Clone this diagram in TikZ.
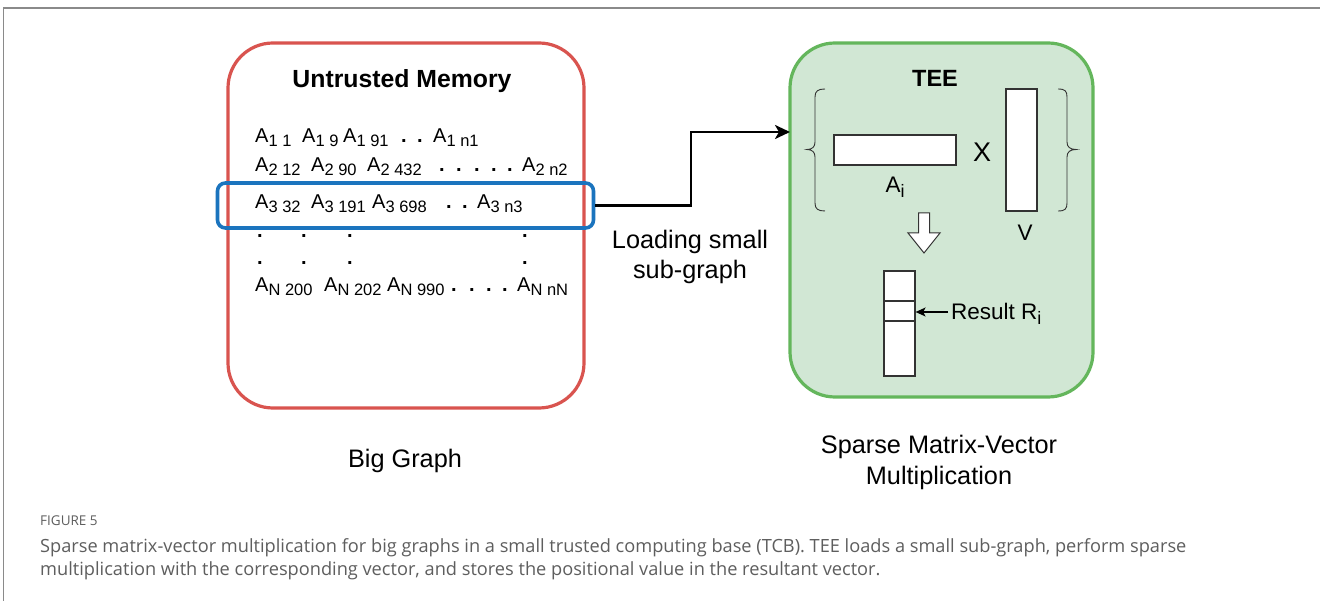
\documentclass[tikz,border=0pt]{standalone}
\usepackage{fontspec}
\setmainfont{Liberation Sans}
\newfontfamily\capfont{Open Sans}
\usetikzlibrary{arrows.meta}
\definecolor{memred}{HTML}{D9544F}
\definecolor{teegreen}{HTML}{64B65C}
\definecolor{teefill}{HTML}{D1E7D4}
\definecolor{selblue}{HTML}{1B74BE}
\definecolor{framegray}{HTML}{8A8A8A}
\definecolor{captext}{HTML}{5E5E5E}
\definecolor{shapeline}{HTML}{333333}
\newcommand{\sbs}[1]{\raisebox{-4pt}{\fontsize{16.5}{16.5}\selectfont #1}}
\newcommand{\sbt}[1]{\raisebox{-4.5pt}{\fontsize{18}{18}\selectfont #1}}
\tikzset{
  ent/.style={anchor=base west, inner sep=0pt, font=\fontsize{20}{20}\selectfont},
  dotn/.style={anchor=base west, inner sep=0pt, font=\fontsize{20}{20}\selectfont\bfseries},
  panel/.style={line width=3.2pt, rounded corners=45pt},
  label/.style={align=center, inner sep=0pt, font=\fontsize{25.3}{31}\selectfont},
  headtxt/.style={anchor=base, inner sep=0pt, font=\fontsize{24.8}{26}\selectfont\bfseries},
  mtx/.style={draw=shapeline, fill=white, line width=1.2pt, inner sep=0pt},
  brc/.style={draw=shapeline, line width=0.9pt},
  flow/.style={line width=2.6pt, -{Stealth[length=15pt,width=14pt,inset=4pt]}},
}
\begin{document}
\begin{tikzpicture}[x=1pt,y=-1pt]
\useasboundingbox (0,0) rectangle (1320,601);
\fill[white] (0,0) rectangle (1320,601);

% outer frame
\draw[framegray, line width=1.6pt] (3.5,601) -- (3.5,8) -- (1320,8);

% untrusted memory panel
\draw[memred, panel] (228,43) rectangle (584,408);
\node[headtxt] (umtitle) at (402,88) {Untrusted Memory};

% row 1
\node[ent] (a11) at (255,143) {A\sbs{1 1}};
\node[ent] (a12) at (302,143) {A\sbs{1 9}};
\node[ent] (a13) at (343,143) {A\sbs{1 91}};
\node[dotn] (d11) at (401,143) {.};
\node[dotn] (d12) at (417,143) {.};
\node[ent] (a1n) at (433,143) {A\sbs{1 n1}};

% row 2
\node[ent] (a21) at (255,172) {A\sbs{2 12}};
\node[ent] (a22) at (311,172) {A\sbs{2 90}};
\node[ent] (a23) at (367,172) {A\sbs{2 432}};
\foreach \x [count=\i] in {439,456,474,491,507}
  \node[dotn] (d2\i) at (\x,172) {.};
\node[ent] (a2n) at (522,172) {A\sbs{2 n2}};

% row 3 (selected)
\node[ent] (a31) at (255,209) {A\sbs{3 32}};
\node[ent] (a32) at (311,209) {A\sbs{3 191}};
\node[ent] (a33) at (372,209) {A\sbs{3 698}};
\node[dotn] (d31) at (446,209) {.};
\node[dotn] (d32) at (462,209) {.};
\node[ent] (a3n) at (477,209) {A\sbs{3 n3}};

% vertical ellipsis rows
\foreach \y [count=\j] in {238,265}
  \foreach \x [count=\i] in {257,301,347,522}
    \node[dotn] (v\j\i) at (\x,\y) {.};

% row N
\node[ent] (an1) at (255,292) {A\sbs{N 200}};
\node[ent] (an2) at (324,292) {A\sbs{N 202}};
\node[ent] (an3) at (387,292) {A\sbs{N 990}};
\foreach \x [count=\i] in {451,469,486,502}
  \node[dotn] (dn\i) at (\x,292) {.};
\node[ent] (ann) at (517,292) {A\sbs{N nN}};

% selected row highlight
\node[draw=selblue, line width=3.6pt, rounded corners=8pt, inner sep=0pt,
      minimum width=376pt, minimum height=45pt] (sel) at (405.5,205.5) {};

% TEE panel
\draw[teegreen, fill=teefill, panel] (790,43) rectangle (1093,397);
\coordinate (teewest) at (790,132);
\node[headtxt, font=\fontsize{23.5}{26}\selectfont\bfseries] (teetitle) at (935,87) {TEE};

% row vector A_i and column vector V
\node[mtx, minimum width=122pt, minimum height=30pt] (ai) at (895,150) {};
\node[anchor=base, inner sep=0pt, font=\fontsize{22.5}{24}\selectfont] (ailbl) at (895,193) {A\sbt{i}};
\node[anchor=base, inner sep=0pt, font=\fontsize{27}{28}\selectfont] (times) at (982,162) {X};
\node[mtx, minimum width=31pt, minimum height=122pt] (vec) at (1021.5,150) {};
\node[anchor=base, inner sep=0pt, font=\fontsize{22.5}{24}\selectfont] (vlbl) at (1025,241) {V};

% braces around the product
\draw[brc] (825,89) .. controls (818,89) and (815,91) .. (815,97) -- (815,142)
  .. controls (815,147) and (812,149.5) .. (807,149.5)
  .. controls (812,149.5) and (815,152) .. (815,157) -- (815,203)
  .. controls (815,209) and (818,211) .. (825,211);
\draw[brc] (1058,89) .. controls (1065,89) and (1067,91) .. (1067,97) -- (1067,142)
  .. controls (1067,147) and (1070,149.5) .. (1076,149.5)
  .. controls (1070,149.5) and (1067,152) .. (1067,157) -- (1067,203)
  .. controls (1067,209) and (1065,211) .. (1058,211);

% hollow down arrow
\draw[shapeline, fill=white, line width=1pt, line join=miter]
  (918.5,213) -- (929.5,213) -- (929.5,233) -- (940,233) -- (924,253)
  -- (908,233) -- (918.5,233) -- cycle;

% result vector
\node[mtx, minimum width=31pt, minimum height=105pt] (res) at (899.5,323.5) {};
\draw[shapeline, line width=1.2pt] (res.west |- 0,301) -- (res.east |- 0,301);
\draw[shapeline, line width=1.2pt] (res.west |- 0,321) -- (res.east |- 0,321);
\node[anchor=base west, inner sep=0pt, font=\fontsize{22.5}{24}\selectfont] (reslbl) at (951,320) {Result R\sbt{i}};
\coordinate (resptr) at (948,312);
\draw[line width=1.4pt, -{Stealth[length=10pt,width=9pt,inset=2.5pt]}] (resptr) -- (res.east |- resptr);

% loading connector
\coordinate (bend) at (691,132);
\draw[flow] (sel.east) -| (bend) -- (teewest);
\node[label, font=\fontsize{25.3}{30}\selectfont] (loadlbl) at (690,257) {Loading small\\sub-graph};

% panel captions
\node[label] (biglbl) at (405,461) {Big Graph};
\node[label] (spmvlbl) at (939,462) {Sparse Matrix-Vector\\Multiplication};

% figure caption
\node[anchor=base west, inner sep=0pt, text=captext, font=\capfont\fontsize{13.5}{14}\selectfont] (fignum) at (40,525) {FIGURE 5};
\node[anchor=base west, inner sep=0pt, text=captext, align=left,
      font=\capfont\fontsize{18.2}{23}\selectfont] (capline1) at (40,552)
  {Sparse matrix-vector multiplication for big graphs in a small trusted computing base (TCB). TEE loads a small sub-graph, perform sparse};
\node[anchor=base west, inner sep=0pt, text=captext, align=left,
      font=\capfont\fontsize{18.2}{23}\selectfont] (capline2) at (40,575)
  {multiplication with the corresponding vector, and stores the positional value in the resultant vector.};
\end{tikzpicture}
\end{document}
